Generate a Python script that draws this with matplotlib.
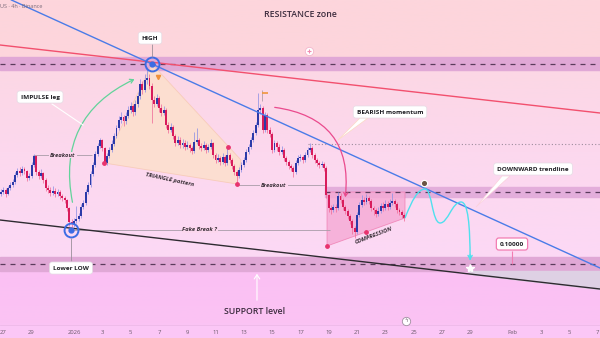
"""TradingView-style 4h chart with resistance/support zones and pattern notes."""

import matplotlib

matplotlib.use("Agg")
import matplotlib.pyplot as plt
import numpy as np
import pandas as pd
from matplotlib.colors import LinearSegmentedColormap
from matplotlib.patches import FancyArrowPatch, PathPatch, Polygon
from matplotlib.path import Path

plt.rcParams["font.family"] = ["Open Sans", "DejaVu Sans"]

# ---- data (prices in pips = 1e-4) ----
T0 = pd.Timestamp("2026-01-01")
candle_times = pd.date_range("2025-12-26 20:00", periods=172, freq="4h")
first_open = 1070
closes_pips = [
  1072, 1074, 1070, 1076, 1079, 1082, 1089, 1093, 1091, 1095,
  1093, 1086, 1088, 1099, 1108, 1092, 1088, 1091, 1084, 1076,
  1074, 1071, 1073, 1070, 1072, 1068, 1066, 1064, 1056, 1042,
  1040, 1043, 1045, 1048, 1057, 1061, 1072, 1079, 1090, 1099,
  1110, 1118, 1124, 1116, 1101, 1108, 1114, 1120, 1128, 1136,
  1144, 1147, 1143, 1148, 1154, 1158, 1152, 1160, 1168, 1180,
  1174, 1184, 1186, 1178, 1164, 1160, 1166, 1156, 1151, 1154,
  1139, 1134, 1137, 1128, 1121, 1124, 1119, 1121, 1117, 1119,
  1116, 1113, 1122, 1124, 1118, 1116, 1119, 1114, 1117, 1121,
  1109, 1104, 1106, 1102, 1107, 1101, 1109, 1104, 1098, 1092,
  1088, 1094, 1099, 1104, 1112, 1117, 1124, 1131, 1139, 1154,
  1156, 1134, 1149, 1134, 1130, 1114, 1121, 1117, 1112, 1114,
  1106, 1102, 1098, 1096, 1092, 1101, 1106, 1107, 1104, 1109,
  1114, 1116, 1109, 1104, 1101, 1099, 1100, 1096, 1069, 1056,
  1054, 1057, 1056, 1068, 1064, 1057, 1053, 1048, 1043, 1036,
  1032, 1049, 1059, 1064, 1062, 1066, 1063, 1056, 1054, 1050,
  1053, 1058, 1056, 1060, 1057, 1061, 1063, 1060, 1054, 1052,
  1049, 1046,
]
highs_pips = [
  1075, 1077, 1076, 1078, 1082, 1085, 1092, 1096, 1097, 1098,
  1097, 1094, 1091, 1102, 1110, 1109, 1094, 1095, 1092, 1086,
  1079, 1077, 1078, 1076, 1075, 1074, 1070, 1068, 1065, 1057,
  1045, 1046, 1058, 1051, 1060, 1064, 1075, 1082, 1093, 1102,
  1113, 1121, 1126, 1125, 1117, 1111, 1117, 1124, 1131, 1139,
  1148, 1152, 1149, 1152, 1158, 1162, 1160, 1164, 1172, 1185,
  1183, 1190, 1197, 1190, 1181, 1168, 1170, 1168, 1160, 1158,
  1156, 1142, 1141, 1139, 1130, 1128, 1127, 1125, 1124, 1123,
  1121, 1118, 1132, 1136, 1126, 1121, 1123, 1121, 1120, 1125,
  1122, 1111, 1110, 1108, 1111, 1109, 1117, 1111, 1106, 1100,
  1094, 1097, 1102, 1107, 1115, 1120, 1127, 1134, 1142, 1171,
  1160, 1158, 1152, 1151, 1137, 1132, 1124, 1123, 1120, 1118,
  1116, 1108, 1104, 1100, 1098, 1104, 1109, 1110, 1109, 1112,
  1117, 1121, 1118, 1111, 1106, 1103, 1103, 1102, 1098, 1070,
  1059, 1060, 1060, 1072, 1071, 1066, 1059, 1055, 1050, 1045,
  1038, 1052, 1062, 1069, 1067, 1070, 1068, 1065, 1058, 1056,
  1057, 1061, 1062, 1064, 1063, 1065, 1071, 1065, 1062, 1056,
  1054, 1051,
]
lows_pips = [
  1068, 1070, 1067, 1069, 1074, 1077, 1080, 1087, 1088, 1089,
  1090, 1083, 1084, 1086, 1097, 1089, 1085, 1086, 1081, 1073,
  1071, 1068, 1069, 1067, 1068, 1065, 1063, 1061, 1053, 1038,
  1034, 1037, 1041, 1043, 1046, 1055, 1059, 1070, 1077, 1088,
  1097, 1108, 1116, 1113, 1100, 1099, 1106, 1112, 1118, 1126,
  1134, 1141, 1138, 1140, 1146, 1151, 1148, 1149, 1157, 1165,
  1170, 1172, 1180, 1175, 1141, 1157, 1158, 1152, 1148, 1149,
  1136, 1131, 1132, 1125, 1118, 1119, 1116, 1116, 1114, 1115,
  1112, 1110, 1111, 1120, 1115, 1113, 1114, 1111, 1112, 1115,
  1106, 1101, 1102, 1099, 1100, 1098, 1099, 1101, 1095, 1089,
  1080, 1086, 1092, 1097, 1102, 1110, 1115, 1122, 1129, 1137,
  1150, 1131, 1132, 1131, 1127, 1111, 1112, 1113, 1109, 1110,
  1103, 1099, 1095, 1093, 1087, 1090, 1099, 1103, 1101, 1102,
  1107, 1112, 1106, 1101, 1098, 1096, 1097, 1093, 1066, 1052,
  1050, 1052, 1052, 1054, 1061, 1054, 1050, 1045, 1040, 1030,
  1026, 1030, 1047, 1057, 1059, 1060, 1060, 1053, 1049, 1047,
  1048, 1051, 1053, 1054, 1054, 1055, 1059, 1057, 1051, 1049,
  1046, 1043,
]

tick_dates = [
  "2025-12-27", "2025-12-29", "2026-01-01", "2026-01-03", "2026-01-05",
  "2026-01-07", "2026-01-09", "2026-01-11", "2026-01-13", "2026-01-15",
  "2026-01-17", "2026-01-19", "2026-01-21", "2026-01-23", "2026-01-25",
  "2026-01-27", "2026-01-29", "2026-02-01", "2026-02-03", "2026-02-05",
  "2026-02-07",
]
tick_labels = [
  "27", "29", "2026", "3", "5", "7", "9", "11", "13", "15", "17",
  "19", "21", "23", "25", "27", "29", "Feb", "3", "5", "7",
]

# levels (price)
resistance = 0.1200
support = 0.1000
mid_level = 0.1072

# drawn lines: (day offset from Jan 1, price)
red_line = ([-5.23, 37.17], [0.1219, 0.1151])
blue_line = ([5.51, 37.17], [0.1200, 0.0996])
black_line = ([-5.23, 37.17], [0.1044, 0.0975])

triangle_pts = [(5.51, 0.1200), (11.80, 0.1104), (11.52, 0.1080), (2.12, 0.1101)]
compression_pts = [(17.88, 0.1072), (23.39, 0.1072), (23.39, 0.1046), (17.88, 0.1018)]
pivot_dots = [(2.12, 0.1101), (11.52, 0.1080), (10.88, 0.1117), (17.88, 0.1018), (20.64, 0.1032)]

# projected path (cubic bezier control points)
projection_pts = [
  (23.39, 0.1046), (23.89, 0.1064), (24.31, 0.1075), (24.81, 0.1075),
  (25.30, 0.1075), (25.30, 0.1041), (25.87, 0.1041),
  (26.43, 0.1041), (26.71, 0.1062), (27.35, 0.1062),
  (27.84, 0.1062), (27.99, 0.1039), (27.99, 0.1004),
]

XMIN, XMAX = -5.23, 37.17
YMIN, YMAX = 0.0926, 0.1264

# ---- figure ----
fig = plt.figure(figsize=(6, 3.38), dpi=100)
ax = fig.add_axes([0, 0, 1, 1])

# background gradient
bg_cmap = LinearSegmentedColormap.from_list(
  "bg",
  [(0.0, "#fbc8f6"), (0.04, "#fbc3f4"), (0.2, "#fbc0f3"), (0.24, "#fcd9f5"),
   (0.55, "#fcd8ee"), (0.79, "#fcd7e5"), (0.83, "#fdd5dc"), (1.0, "#fdd6dc")],
)
grad = np.linspace(0, 1, 400).reshape(-1, 1)
ax.imshow(grad, extent=[XMIN, XMAX, YMIN, YMAX], origin="lower", aspect="auto",
          cmap=bg_cmap, zorder=0)

# bottom strip
ax.axhspan(YMIN, 0.0939, color="#fbc7f6", zorder=0.5)
ax.axhline(0.0939, color="#eab6e6", lw=0.5, zorder=0.6)

# zones
zone_col = "#e0a8d6"
dash_col = "#5a3c5c"
ax.axhspan(resistance - 0.0006, resistance + 0.0007, color=zone_col, zorder=1)
ax.axhspan(support - 0.0007, support + 0.0007, color=zone_col, zorder=1)
ax.fill_between([17.74, XMAX], mid_level - 0.0005, mid_level + 0.0005,
                color="#e3aedb", zorder=1.2)
ax.axhline(resistance, color=dash_col, lw=0.9, ls=(0, (4, 4)), zorder=2)
ax.axhline(support, color=dash_col, lw=0.9, ls=(0, (4, 4)), zorder=2)
ax.hlines(mid_level, 17.74, XMAX, color=dash_col, lw=0.9, ls=(0, (4, 4)), zorder=2)

# gray target area under support
xs = np.array([27.9, XMAX])
ax.fill_between(xs, support - 0.0007, np.interp(xs, *black_line),
                color="#ded0e4", zorder=1.1)

# patterns
ax.add_patch(Polygon(triangle_pts, closed=True, fc="#fde0cc", ec="#f7c9b4",
                     lw=0.6, alpha=0.85, zorder=1.5))
ax.add_patch(Polygon(compression_pts, closed=True, fc="#f5a9d4", ec="#ef7cb0",
                     lw=0.6, alpha=0.8, zorder=1.3))

# trend lines
ax.plot(*red_line, color="#f2506e", lw=1.0, zorder=3)
ax.axline(*zip(*blue_line), color="#4a7be8", lw=1.0, zorder=6)
ax.plot(*black_line, color="#2e2a30", lw=1.0, zorder=3)

# helper guide lines
guide = dict(color="#a99ca8", lw=0.6, zorder=2.5)
ax.hlines(0.1109, -2.90, 1.27, **guide)
ax.hlines(0.1079, 11.52, 17.81, **guide)
ax.hlines(0.1034, -0.21, 18.09, **guide)
ax.hlines(0.1120, 16.54, XMAX, color="#9d8c9c", lw=0.8, ls=(0, (1, 2)), zorder=2.5)

# candles
x = ((candle_times - T0) / pd.Timedelta("1D")).to_numpy()
c = np.array(closes_pips) / 1e4
o = np.r_[first_open / 1e4, c[:-1]]
hi = np.array(highs_pips) / 1e4
lo = np.array(lows_pips) / 1e4
up = c >= o
ax.vlines(x, lo, hi, colors=np.where(up, "#9092e4", "#f0709b"), lw=0.55, zorder=4)
ax.bar(x, np.maximum(np.abs(c - o), 0.00008), bottom=np.minimum(o, c), width=0.135,
       color=np.where(up, "#2c3aa8", "#d81c5c"), zorder=5)

# pivot dots
px, py = zip(*pivot_dots)
ax.scatter(px, py, s=6, color="#e8336e", zorder=7)

# circles at HIGH / Lower LOW
for cx, cy in [(5.51, 0.1200), (-0.21, 0.1034)]:
  ax.plot(cx, cy, "o", ms=10, mfc="none", mec="#3c6ce4", mew=1.4, zorder=8)
  ax.plot(cx, cy, "o", ms=3.5, color="#3c6ce4", zorder=8)

# curved arrows
ax.add_patch(FancyArrowPatch((-0.07, 0.1059), (4.45, 0.1186),
                             connectionstyle="arc3,rad=-0.4",
                             arrowstyle="->,head_length=2.5,head_width=1.5",
                             color="#62d39a", lw=0.9, zorder=6))
ax.add_patch(FancyArrowPatch((13.99, 0.1157), (19.15, 0.1064),
                             connectionstyle="arc3,rad=-0.5",
                             arrowstyle="->,head_length=2.5,head_width=1.5",
                             color="#ea4a8d", lw=0.9, zorder=6))

# projection
codes = [Path.MOVETO] + [Path.CURVE4] * (len(projection_pts) - 1)
ax.add_patch(PathPatch(Path(projection_pts, codes), fc="none", ec="#4fe0ee",
                       lw=1.0, zorder=6))
ax.add_patch(FancyArrowPatch((27.99, 0.1012), (27.99, 0.1001),
                             arrowstyle="->,head_length=2.5,head_width=1.5",
                             color="#4fe0ee", lw=1.0, zorder=6))
ax.plot(27.99, 0.0996, "*", ms=6, color="white", zorder=7)

# small icons
ax.plot(24.74, 0.1081, "o", ms=4.5, mfc="#6b5546", mec="white", mew=0.8, zorder=8)
ax.plot(16.61, 0.1213, "o", ms=6, mfc="white", mec="#f3b6cc", mew=0.6, zorder=8)
ax.plot(16.61, 0.1213, "+", ms=3, color="#f08cb0", mew=0.8, zorder=9)
ax.vlines(13.29, 0.1163, 0.1174, color="#b0a0a8", lw=0.6, zorder=6)
ax.hlines(0.1171, 13.29, 13.72, color="#f0963c", lw=1.2, zorder=6)
ax.plot(5.93, 0.1187, "v", ms=3, color="#f0903a", zorder=8)
ax.plot(23.46, 0.0943, "o", ms=6, mfc="white", mec="#a090a0", mew=0.6, zorder=8)
ax.text(23.46, 0.0943, "ϟ", fontsize=4, ha="center", va="center", color="#776777", zorder=9)

# label boxes
box = dict(boxstyle="round,pad=0.55,rounding_size=0.4", fc="white", ec="#e4dce4", lw=0.5)
label_kw = dict(fontsize=4.6, fontweight="bold", color="#1f1f24", ha="center",
                va="center", zorder=10)
ax.vlines(5.51, 0.1207, 0.1220, color="#9a8f9a", lw=0.6, zorder=9)
ax.text(5.37, 0.1226, "HIGH", bbox=box, **label_kw)
ax.plot([-1.55, 0.64], [0.1160, 0.1139], color="white", lw=0.8, zorder=9)
ax.text(-2.40, 0.1167, "IMPULSE leg", bbox=box, **label_kw)
ax.add_patch(Polygon([(18.66, 0.1124), (20.21, 0.1146), (20.78, 0.1146)],
                     fc="white", ec="#fbd9c4", lw=0.5, zorder=9))
ax.text(22.33, 0.1152, "BEARISH momentum", bbox=box, **label_kw)
ax.add_patch(Polygon([(28.41, 0.1057), (30.25, 0.1088), (30.81, 0.1088)],
                     fc="white", ec="#fbd0dc", lw=0.5, zorder=9))
ax.text(32.44, 0.1095, "DOWNWARD trendline", bbox=box, **label_kw)
ax.vlines(30.95, support, 0.1013, color="#f27db2", lw=0.8, zorder=9)
ax.text(30.95, 0.1020, "0.10000",
        bbox=dict(boxstyle="round,pad=0.55,rounding_size=0.4", fc="white",
                  ec="#f27db2", lw=0.9), **label_kw)
ax.vlines(-0.21, 0.1003, 0.1026, color="#9a8f9a", lw=0.6, zorder=9)
ax.text(-0.21, 0.0996, "Lower LOW", bbox=box, **label_kw)

# italic notes on guide lines
note_kw = dict(fontsize=4.2, fontstyle="italic", fontweight="bold", color="#3a3038",
               ha="center", va="center", zorder=9)
note_box = dict(boxstyle="square,pad=0.15", fc="#fcd7ee", ec="none")
ax.text(-0.78, 0.1109, "Breakout", bbox=note_box, **note_kw)
ax.text(14.13, 0.1079, "Breakout", bbox=note_box, **note_kw)
ax.text(8.90, 0.1034, "Fake Break ?", bbox=note_box, **note_kw)
ax.text(6.78, 0.1084, "TRIANGLE pattern", rotation=-12, rotation_mode="anchor", **note_kw)
ax.text(21.20, 0.1029, "COMPRESSION", rotation=21, rotation_mode="anchor", **note_kw)

# titles
ax.text(15.97, 0.1250, "RESISTANCE zone", fontsize=6.3, fontweight="semibold",
        color="#3b2b3d", ha="center", va="center", zorder=10)
ax.text(12.79, 0.0952, "SUPPORT level", fontsize=6.3, fontweight="semibold",
        color="#3b2b3d", ha="center", va="center", zorder=10)
ax.add_patch(FancyArrowPatch((12.93, 0.0961), (12.93, 0.0993),
                             arrowstyle="->,head_length=3,head_width=2",
                             color="white", lw=0.8, zorder=9))
ax.text(-5.2, 0.1258, "US · 4h · Binance", fontsize=4, color="#7a6a7a",
        ha="left", va="center", zorder=10)

# axes
tick_days = [(pd.Timestamp(d) - T0) / pd.Timedelta("1D") for d in tick_dates]
ax.set_xticks(tick_days, tick_labels)
ax.tick_params(axis="x", length=0, pad=-5.5, labelsize=4.2, labelcolor="#6a5a6a")
ax.set_yticks([])
ax.set_xlim(XMIN, XMAX)
ax.set_ylim(YMIN, YMAX)
for s in ax.spines.values():
  s.set_visible(False)

fig.savefig("out.png", dpi=100)
